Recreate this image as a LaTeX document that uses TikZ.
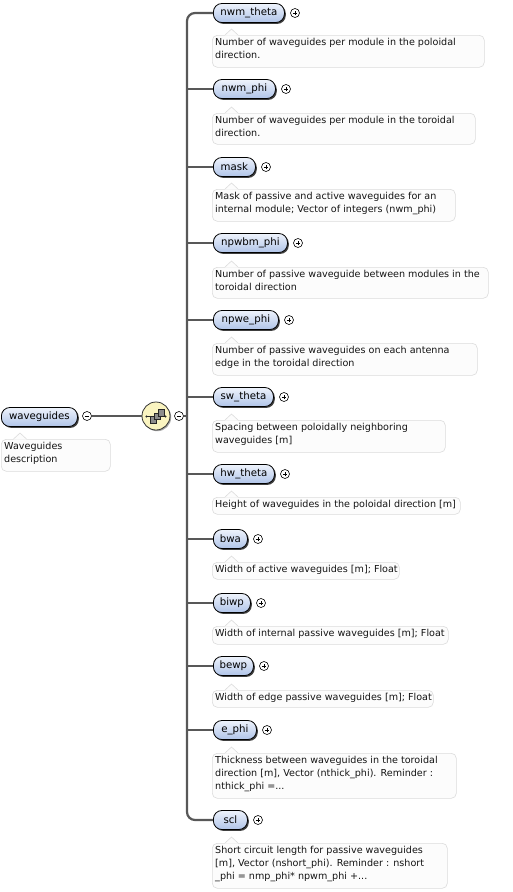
\documentclass[tikz,border=0pt]{standalone}
\usepackage{fontspec}
\setmainfont{DejaVu Sans}
\usetikzlibrary{shadows}
\definecolor{elemtop}{RGB}{238,243,252}
\definecolor{elembot}{RGB}{176,196,232}
\definecolor{connc}{RGB}{88,88,88}
\definecolor{descfill}{RGB}{252,252,252}
\definecolor{descdraw}{RGB}{220,220,220}
\definecolor{seqfill}{RGB}{250,244,192}
\definecolor{sqfill}{RGB}{140,140,140}
\tikzset{
 elem/.style={draw=black, line width=0.8pt, rounded corners=8.5pt, top color=elemtop, bottom color=elembot, minimum height=19pt, inner sep=0pt, font=\fontsize{10.2}{12}\selectfont, drop shadow={shadow xshift=1.4pt, shadow yshift=-1.4pt, fill=black, opacity=0.75}},
 plusc/.style={circle, draw=black, line width=0.6pt, fill=white, minimum size=9pt, inner sep=0pt, path picture={\draw[line width=0.6pt] ([xshift=-2.4pt]path picture bounding box.center) -- ([xshift=2.4pt]path picture bounding box.center) ([yshift=-2.4pt]path picture bounding box.center) -- ([yshift=2.4pt]path picture bounding box.center);}},
 minusc/.style={circle, draw=black, line width=0.6pt, fill=white, minimum size=9pt, inner sep=0pt, path picture={\draw[line width=0.6pt] ([xshift=-2.4pt]path picture bounding box.center) -- ([xshift=2.4pt]path picture bounding box.center);}},
 seqc/.style={circle, draw=black!80, line width=0.8pt, fill=seqfill, minimum size=28pt, inner sep=0pt, drop shadow={shadow xshift=1.2pt, shadow yshift=-1.2pt, fill=black, opacity=0.35}},
 sq/.style={draw=black!85, line width=0.5pt, fill=sqfill},
 descbox/.style={draw=descdraw, fill=descfill, line width=0.6pt, rounded corners=5pt, inner sep=0pt},
 desctext/.style={inner sep=0pt, align=left, font=\fontsize{9.6}{13}\selectfont, text=black!92},
 conn/.style={draw=connc, line width=1.6pt},
 bus/.style={draw=connc, line width=2.2pt, rounded corners=8pt},
}
% name, y, plus x, label, desc top, desc bottom, desc right, text
\newcommand{\xsdelem}[8]{%
 \node[elem, anchor=west, minimum width={#3-11-213}] (#1) at (213,#2) {#4};
 \node[plusc] (#1p) at (#3,#2) {};
 \node[descbox, anchor=north west, minimum width={#7-212}, minimum height={#6-#5}] (#1d) at (212,#5) {};
 \fill[descfill] (225,#5+0.7) -- (231.5,#5-6) -- (238,#5+0.7) -- cycle;
 \draw[descdraw, line width=0.6pt] (225,#5) -- (231.5,#5-6) -- (238,#5);
 \node[desctext, anchor=north west] (#1t) at (215,#5+3.2) {#8};
}
\begin{document}
\begin{tikzpicture}[x=1pt, y=-1pt]
\useasboundingbox[fill=white] (0,0) rectangle (512,892);

% root element
\node[elem, anchor=west, minimum width=76] (waveguides) at (1,417) {waveguides};
\node[minusc] (wgm) at (87,416) {};
\node[descbox, anchor=north west, minimum width=109, minimum height=32] (waveguidesd) at (1,439) {};
\fill[descfill] (13.5,439.7) -- (20,433) -- (26.5,439.7) -- cycle;
\draw[descdraw, line width=0.6pt] (13.5,439) -- (20,433) -- (26.5,439);
\node[desctext, anchor=north west] (waveguidest) at (4,442.2) {Waveguides\\description};

% sequence compositor
\node[seqc] (seq) at (156,416) {};
\node[minusc] (seqm) at (179,416) {};
\draw[conn] (wgm) -- (seq);
\coordinate (busmid) at (187,416);
\draw[conn] (seqm) -- (busmid);
\draw[line width=0.7pt, black!85] (146.5,416.5) -- (165.5,416.5);
\fill[black!85] (146.5,416.5) circle (1.1) (165.5,416.5) circle (1.1);
\draw[sq] (150,416.5) rectangle (156.5,423);
\draw[sq] (154,413) rectangle (160.5,419.5);
\draw[sq] (158,409.5) rectangle (164.5,416);

% children
\xsdelem{nwmtheta}{13}{295}{nwm\_theta}{35}{67}{484}{Number of waveguides per module in the poloidal\\direction.}
\xsdelem{nwmphi}{89}{286}{nwm\_phi}{113}{144}{475}{Number of waveguides per module in the toroidal\\direction.}
\xsdelem{mask}{167}{266}{mask}{189}{221}{455}{Mask of passive and active waveguides for an\\internal module; Vector of integers (nwm\_phi)}
\xsdelem{npwbmphi}{243}{298}{npwbm\_phi}{267}{298}{488}{Number of passive waveguide between modules in the\\toroidal direction}
\xsdelem{npwephi}{320}{289}{npwe\_phi}{343}{375}{477}{Number of passive waveguides on each antenna\\edge in the toroidal direction}
\xsdelem{swtheta}{397}{284}{sw\_theta}{420}{452}{445}{Spacing between poloidally neighboring\\waveguides [m]}
\xsdelem{hwtheta}{474}{285}{hw\_theta}{497}{514}{460}{Height of waveguides in the poloidal direction [m]}
\xsdelem{bwa}{539}{258}{bwa}{562}{579}{399}{Width of active waveguides [m]; Float}
\xsdelem{biwp}{603}{261}{biwp}{626}{644}{448}{Width of internal passive waveguides [m]; Float}
\xsdelem{bewp}{666}{264}{bewp}{690}{707}{433}{Width of edge passive waveguides [m]; Float}
\xsdelem{ephi}{730}{267}{e\_phi}{753}{798}{456}{Thickness between waveguides in the toroidal\\direction [m], Vector (nthick\_phi). Reminder :\\nthick\_phi =...}
\xsdelem{scl}{820}{258}{scl}{843}{888}{447}{Short circuit length for passive waveguides\\{}[m], Vector (nshort\_phi). Reminder : nshort\\\_phi = nmp\_phi* npwm\_phi +...}

% connectors
\draw[bus] (nwmtheta.west) -| (busmid) |- (scl.west);
\foreach \n in {nwmphi,mask,npwbmphi,npwephi,swtheta,hwtheta,bwa,biwp,bewp,ephi}
  \draw[conn] (busmid |- \n.west) -- (\n.west);
\end{tikzpicture}
\end{document}
